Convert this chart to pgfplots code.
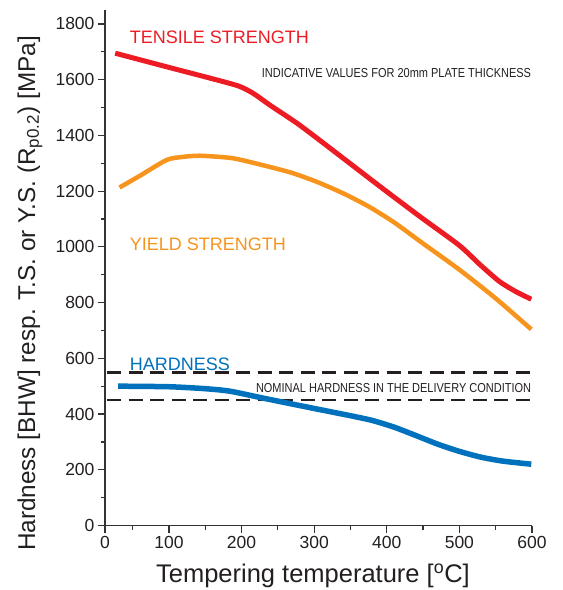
\documentclass[border=0pt]{standalone}
\usepackage{fontspec}
\setmainfont{Liberation Sans}
\usepackage{graphicx}
\usepackage{pgfplots}
\pgfplotsset{compat=1.18}
\definecolor{tsred}{HTML}{ED1C24}
\definecolor{ysorange}{HTML}{F7941D}
\definecolor{hblue}{HTML}{0071BC}
\definecolor{axgray}{HTML}{333333}
\definecolor{txt}{HTML}{231F20}

\begin{document}
\begin{tikzpicture}
\begin{axis}[
  scale only axis, width=427pt, height=515.5pt,
  xmin=12, xmax=600, ymin=0, ymax=1850,
  axis x line*=bottom, axis y line*=left,
  axis line style={axgray, line width=1.3pt, -},
  xtick={12,100,200,300,400,500,600},
  xticklabels={0,100,200,300,400,500,600},
  minor xtick={50,150,250,350,450,550},
  ytick={0,200,400,600,800,1000,1200,1400,1600,1800},
  minor ytick={100,300,500,700,900,1100,1300,1500,1700},
  tick align=outside,
  major tick length=7pt, minor tick length=4pt,
  tick style={axgray, line width=1.2pt},
  tick label style={font=\fontsize{17.5}{20}\selectfont, text=txt},
  /pgf/number format/assume math mode=true,
  /pgf/number format/1000 sep={},
  xlabel={Tempering temperature [\textsuperscript{o}C]},
  ylabel={Hardness [BHW] resp. T.S. or Y.S. (R\textsubscript{p0.2}) [MPa]},
  xlabel style={font=\fontsize{25.5}{28}\selectfont, text=txt, at={(axis description cs:0.487,-0.098)}, anchor=center},
  ylabel style={font=\fontsize{24.3}{28}\selectfont, text=txt, at={(axis description cs:-0.1756,0.45)}, anchor=center},
  clip=false,
]
% nominal hardness band
\addplot[txt, line width=2.6pt, dash pattern=on 14pt off 7.5pt] coordinates {(15,550) (600,550)};
\addplot[txt, line width=2.6pt, dash pattern=on 14pt off 7.5pt] coordinates {(15,450) (600,450)};
% tensile strength
\addplot[tsred, line width=5pt, smooth, tension=0.4] coordinates {
 (26,1695) (100,1644) (150,1610) (195,1578) (216,1551) (240,1507) (280,1437) (335,1328) (390,1218) (445,1110) (500,1005) (528,937) (555,876) (578,839) (599,812)};
% yield strength
\addplot[ysorange, line width=4.5pt, smooth, tension=0.4] coordinates {
 (32,1213) (60,1255) (97,1312) (120,1323) (143,1327) (188,1318) (234,1290) (270,1265) (305,1232) (340,1192) (375,1145) (410,1088) (450,1012) (500,918) (550,815) (599,704)};
% hardness
\addplot[hblue, line width=5.5pt, smooth, tension=0.4] coordinates {
 (30,500) (100,498) (150,491) (184,482) (230,457) (298,421) (350,394) (380,377) (410,353) (440,323) (470,292) (500,266) (530,245) (560,231) (599,220)};

\node[anchor=west, inner sep=0pt, text=tsred, font=\fontsize{18}{20}\selectfont] at (axis cs:46,1753) {TENSILE STRENGTH};
\node[anchor=west, inner sep=0pt, text=ysorange, font=\fontsize{18}{20}\selectfont] at (axis cs:46,1010) {YIELD STRENGTH};
\node[anchor=west, inner sep=0pt, text=hblue, font=\fontsize{18}{20}\selectfont] at (axis cs:46,580) {HARDNESS};
\node[anchor=east, inner sep=0pt, text=txt] at (axis cs:599,1623) {\scalebox{0.845}[1]{\fontsize{13}{15}\selectfont INDICATIVE VALUES FOR 20mm PLATE THICKNESS}};
\node[anchor=east, inner sep=0pt, text=txt] at (axis cs:599,493.5) {\scalebox{0.845}[1]{\fontsize{13}{15}\selectfont NOMINAL HARDNESS IN THE DELIVERY CONDITION}};
\end{axis}
\pgfresetboundingbox
\path[use as bounding box] ([shift={(-105pt,-64.5pt)}]current axis.south west) rectangle ++(563pt,590pt);
\end{tikzpicture}
\end{document}
